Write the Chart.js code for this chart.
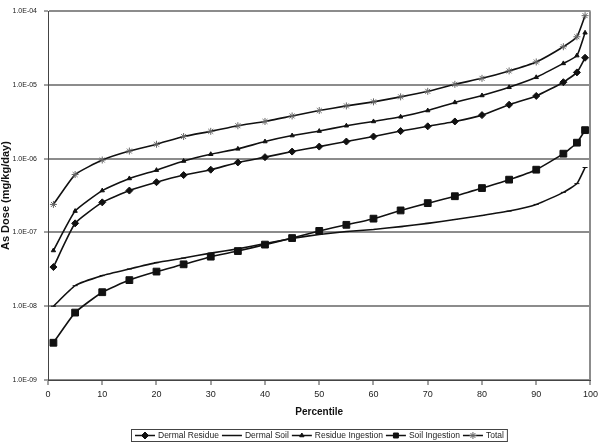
<!DOCTYPE html>
<html>
<head>
<meta charset="utf-8">
<script src="https://cdn.jsdelivr.net/npm/chart.js@4.4.1/dist/chart.umd.min.js"></script>
<style>
  html, body { margin: 0; padding: 0; background: #fff; }
</style>
</head>
<body>
<canvas id="grafico" width="602" height="443"></canvas>
<script>
// percentiles along the x axis
const percentiles = [1, 5, 10, 15, 20, 25, 30, 35, 40, 45, 50, 55, 60, 65, 70, 75, 80, 85, 90, 95, 97.5, 99];

// dose values (mg/kg/day)
const dermalResidue = [3.4e-8, 1.33e-7, 2.56e-7, 3.7e-7, 4.8e-7, 6.0e-7, 7.1e-7, 8.9e-7, 1.05e-6, 1.25e-6, 1.46e-6,
  1.71e-6, 2.0e-6, 2.37e-6, 2.75e-6, 3.2e-6, 3.9e-6, 5.4e-6, 7.1e-6, 1.09e-5, 1.48e-5, 2.34e-5];
const dermalSoil = [1.0e-8, 1.9e-8, 2.6e-8, 3.2e-8, 3.9e-8, 4.5e-8, 5.25e-8, 6.0e-8, 7.1e-8, 8.3e-8, 9.4e-8,
  1.03e-7, 1.1e-7, 1.2e-7, 1.33e-7, 1.5e-7, 1.7e-7, 1.95e-7, 2.4e-7, 3.5e-7, 4.6e-7, 7.6e-7];
const residueIngestion = [5.7e-8, 1.95e-7, 3.7e-7, 5.4e-7, 7.0e-7, 9.3e-7, 1.15e-6, 1.36e-6, 1.71e-6, 2.06e-6, 2.37e-6,
  2.8e-6, 3.2e-6, 3.7e-6, 4.5e-6, 5.8e-6, 7.2e-6, 9.3e-6, 1.27e-5, 1.96e-5, 2.5e-5, 5.1e-5];
const soilIngestion = [3.2e-9, 8.2e-9, 1.55e-8, 2.26e-8, 2.95e-8, 3.7e-8, 4.7e-8, 5.6e-8, 6.85e-8, 8.4e-8, 1.05e-7,
  1.27e-7, 1.54e-7, 1.99e-7, 2.5e-7, 3.1e-7, 4.0e-7, 5.2e-7, 7.1e-7, 1.17e-6, 1.65e-6, 2.44e-6];
const total = [2.4e-7, 6.1e-7, 9.6e-7, 1.27e-6, 1.57e-6, 2.0e-6, 2.35e-6, 2.8e-6, 3.2e-6, 3.8e-6, 4.5e-6,
  5.2e-6, 5.9e-6, 6.9e-6, 8.2e-6, 1.02e-5, 1.23e-5, 1.55e-5, 2.05e-5, 3.3e-5, 4.5e-5, 8.7e-5];

const yTicks = [1e-9, 1e-8, 1e-7, 1e-6, 1e-5, 1e-4];
const xTicks = [0, 10, 20, 30, 40, 50, 60, 70, 80, 90, 100];

const FUENTE = '"Liberation Sans", Arial, sans-serif';
Chart.defaults.font.family = FUENTE;

// 1e-6 -> "1.0E-06"
function formatoE(v) {
  const exp = Math.round(Math.log10(v));
  const m = v / Math.pow(10, exp);
  return m.toFixed(1) + 'E' + (exp < 0 ? '-' : '+') + String(Math.abs(exp)).padStart(2, '0');
}

function puntos(arr) {
  return percentiles.map((p, i) => ({ x: p, y: arr[i] }));
}

function serie(label, arr, style, radius, color) {
  return {
    label: label,
    data: puntos(arr),
    borderColor: '#111',
    borderWidth: 1.6,
    pointStyle: style,
    pointRadius: radius,
    pointBackgroundColor: color || '#111',
    pointBorderColor: color || '#111',
    pointBorderWidth: 1,
    tension: 0.15,
    fill: false
  };
}

// ===============================
// Legend drawn by hand (line + marker + text, boxed)
// ===============================
const leyendaCaja = {
  id: 'leyendaCaja',
  afterDraw(chart) {
    const ctx = chart.ctx;
    const area = chart.chartArea;
    ctx.save();
    ctx.font = '8.5px ' + FUENTE;
    const sym = 20, gapText = 3, gapItem = 3, pad = 3;
    const items = chart.data.datasets.map(ds => ({ ds, w: sym + gapText + ctx.measureText(ds.label).width }));
    const totalW = items.reduce((s, it) => s + it.w, 0) + gapItem * (items.length - 1);
    let x = Math.round((area.left + area.right) / 2 - totalW / 2);
    const yMid = 435.5;

    ctx.strokeStyle = '#444';
    ctx.lineWidth = 1;
    ctx.strokeRect(x - pad - 0.5, 429.5, totalW + 2 * pad + 1, 12);

    items.forEach(it => {
      const ds = it.ds;
      ctx.strokeStyle = '#111';
      ctx.lineWidth = 1.5;
      ctx.beginPath();
      ctx.moveTo(x, yMid);
      ctx.lineTo(x + sym, yMid);
      ctx.stroke();
      if (Chart.helpers && Chart.helpers.drawPoint) {
        ctx.fillStyle = ds.pointBackgroundColor;
        ctx.strokeStyle = ds.pointBorderColor;
        ctx.lineWidth = 1;
        Chart.helpers.drawPoint(ctx, { pointStyle: ds.pointStyle, radius: Math.min(ds.pointRadius, 3.5), rotation: 0, borderWidth: 1 }, x + sym / 2, yMid);
      }
      ctx.fillStyle = '#222';
      ctx.textBaseline = 'middle';
      ctx.textAlign = 'left';
      ctx.fillText(ds.label, x + sym + gapText, yMid);
      x += it.w + gapItem;
    });
    ctx.restore();
  }
};

new Chart(document.getElementById('grafico'), {
  type: 'line',
  data: {
    datasets: [
      serie('Dermal Residue', dermalResidue, 'rectRot', 3.5),
      serie('Dermal Soil', dermalSoil, 'line', 2.5),
      serie('Residue Ingestion', residueIngestion, 'triangle', 2.5),
      serie('Soil Ingestion', soilIngestion, 'rect', 4.8),
      serie('Total', total, 'star', 3.5, '#666')
    ]
  },
  options: {
    responsive: false,
    animation: false,
    devicePixelRatio: 1,
    layout: { padding: { left: 0, right: 8, top: 6, bottom: 19 } },
    plugins: {
      legend: { display: false },
      tooltip: { enabled: false }
    },
    scales: {
      x: {
        type: 'linear',
        min: 0,
        max: 100,
        afterBuildTicks: s => { s.ticks = xTicks.map(v => ({ value: v })); },
        afterFit: s => { s.height = 44; },
        ticks: { font: { size: 9 }, color: '#222', padding: 4, maxRotation: 0, autoSkip: false },
        grid: {
          color: c => (c.tick && c.tick.value === 100) ? '#8c8c8c' : 'rgba(0,0,0,0)',
          lineWidth: 2,
          tickLength: 5,
          tickColor: '#444',
          tickWidth: 1
        },
        border: { color: '#444', width: 1 },
        title: {
          display: true,
          text: 'Percentile',
          color: '#111',
          font: { size: 10, weight: 'bold' },
          padding: { top: 0, bottom: 6 }
        }
      },
      y: {
        type: 'logarithmic',
        min: 1e-9,
        max: 1e-4,
        afterBuildTicks: s => { s.ticks = yTicks.map(v => ({ value: v })); },
        afterFit: s => { s.width = 48; },
        ticks: { font: { size: 7 }, color: '#222', padding: 7, callback: v => formatoE(v), autoSkip: false },
        grid: { color: '#8c8c8c', lineWidth: 2, tickLength: 4, tickColor: '#444', tickWidth: 1 },
        border: { color: '#444', width: 1 },
        title: {
          display: true,
          text: 'As Dose (mg/kg/day)',
          color: '#111',
          font: { size: 11, weight: 'bold', lineHeight: 1 },
          padding: 0
        }
      }
    }
  },
  plugins: [leyendaCaja]
});
</script>
</body>
</html>
